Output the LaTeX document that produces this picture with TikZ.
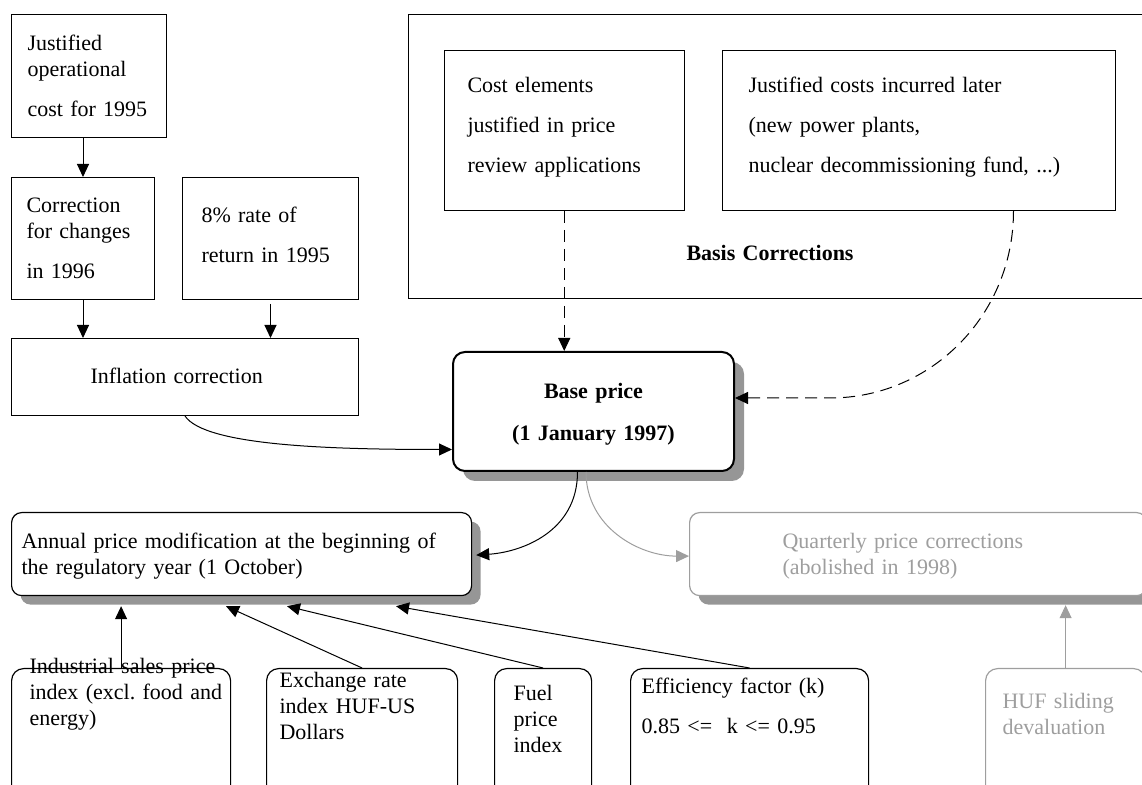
\documentclass[tikz,border=0pt]{standalone}
\usepackage{fontspec}
\setmainfont{Liberation Serif}
\usepackage{tikz}
\usetikzlibrary{arrows.meta,calc,shadows}
\definecolor{shadegray}{RGB}{150,150,150}
\definecolor{palegray}{RGB}{158,158,158}
\tikzset{
  box/.style={draw, line width=0.5pt, anchor=north west, align=left, inner ysep=0pt, font=\fontsize{11}{13}\selectfont\frenchspacing},
  rbox/.style={box, rounded corners=6pt, line width=0.6pt},
  shade/.style={fill=white, drop shadow={opacity=1, fill=shadegray, shadow xshift=#1, shadow yshift=-#1}},
  arr/.style={-{Triangle[length=6.5pt,width=6pt]}, line width=0.5pt},
  dasharr/.style={arr, dash pattern=on 6pt off 3.5pt},
}

\begin{document}
\begin{tikzpicture}[x=0.5pt, y=-0.5pt]
    \useasboundingbox (0,0) rectangle (1142,785); \clip (0,0) rectangle (1142,785);
    \node[box, inner xsep=8pt, text width=61.5pt, text height=18pt, text depth=43.5pt] (jcost) at (11,14) {Justified\\ operational\\[7pt] cost for 1995};
    \node[box, inner xsep=7.5pt, text width=56.5pt, text height=17.5pt, text depth=43.5pt] (corr) at (11,177) {Correction\\ for changes\\[7pt] in 1996};
    \node[box, inner xsep=9.5pt, text width=69pt, text height=22.5pt, text depth=38.5pt] (rate) at (182,177) {8\% rate of\\[7pt] return in 1995};
    \node[box, inner xsep=39.5pt, text width=94.5pt, text height=22.5pt, text depth=16pt] (infl) at (11,338) {Inflation correction};

    \node[box, inner xsep=139pt, text width=93pt, text height=123pt, text depth=19pt, font=\fontsize{11}{13}\selectfont\bfseries] (basis) at (408,14) {Basis Corrections};
    \node[box, inner xsep=11.75pt, text width=96.75pt, text height=21pt, text depth=59pt] (costel) at (443.5,50) {Cost elements\\[7pt] justified in price\\[7pt] review applications};
    \node[box, inner xsep=13pt, text width=170.5pt, text height=21pt, text depth=59pt] (later) at (722,50) {Justified costs incurred later\\[7pt] (new power plants,\\[7pt] nuclear decommissioning fund, ...)};

    \node[box, shade=5pt, rounded corners=6pt, line width=1pt, align=center, inner xsep=0pt, text width=140.5pt, text height=23.5pt, text depth=36pt, font=\fontsize{11}{13}\selectfont\bfseries] (base) at (452,351) {Base price\\[8pt] (1 January 1997)};
    \node[rbox, shade=4.5pt, rounded corners=5pt, inner xsep=5pt, text width=220pt, text height=18pt, text depth=23.5pt] (annual) at (11,512) {Annual price modification at the beginning of\\ the regulatory year (1 October)};
    \node[rbox, shade=4.5pt, rounded corners=5pt, draw=palegray, text=palegray, inner xsep=46.5pt, text width=135.5pt, text height=18pt, text depth=23.5pt] (quart) at (689,512) {Quarterly price corrections\\ (abolished in 1998)};

    \node[rbox, inner xsep=0pt, text width=109.5pt, text height=2.5pt, text depth=62.5pt] (isp) at (11,668) {\hspace*{9pt}Industrial sales price\\ \hspace*{9pt}index (excl. food and\\ \hspace*{9pt}energy)};
    \node[rbox, inner xsep=6.5pt, text width=82.5pt, text height=9.5pt, text depth=55.5pt] (exr) at (266,668) {Exchange rate\\ index HUF-US\\ Dollars};
    \node[rbox, inner xsep=9.5pt, text width=29.5pt, text height=16pt, text depth=49pt] (fuel) at (494,668) {Fuel\\ price\\ index};
    \node[rbox, inner xsep=5.5pt, text width=108pt, text height=12.5pt, text depth=52.5pt] (eff) at (630,668) {Efficiency factor (k)\\[7pt] 0.85 <=\ \ k <= 0.95};
    \node[rbox, draw=palegray, text=palegray, inner xsep=8.5pt, text width=63pt, text height=20pt, text depth=45pt] (huf) at (985,668) {HUF sliding\\ devaluation};

    \draw[arr] (corr.north |- jcost.south) -- (corr.north);
    \draw[arr] (corr.south) -- (corr.south |- infl.north);
    \draw[arr, shorten <=2pt] (rate.south) -- (rate.south |- infl.north);
    \draw[arr] (infl.south) .. controls +(20,30) and +(-120,0) .. ($(base.west)+(0,38)$);
    \draw[dasharr] (costel.south) -- (costel.south |- base.north);
    \coordinate (bend) at (830,398);
    \draw[dasharr] ($(later.south)+(94.5,0)$) .. controls +(0,104) and +(101,0) .. (bend) -- (bend -| base.east);
    \draw[arr] ($(base.south)+(-16,0)$) .. controls +(0,60) and +(45,-3) .. ($(annual.east)+(4,1)$);
    \draw[arr, palegray] ($(base.south)+(-7.5,0)$) .. controls +(0,55) and +(-50,0) .. ($(quart.west)+(0,2)$);
    \draw[arr] (isp.north) -- ($(isp.north |- annual.south)+(0,10)$);
    \draw[arr] (exr.north) -- ($(annual.south west)+(215,10)$);
    \draw[arr] (fuel.north) -- ($(annual.south west)+(276,10)$);
    \draw[arr] (eff.north) -- ($(annual.south west)+(385,10)$);
    \draw[arr, palegray] (huf.north) -- ($(huf.north |- quart.south)+(0,9)$);
\end{tikzpicture}
\end{document}
